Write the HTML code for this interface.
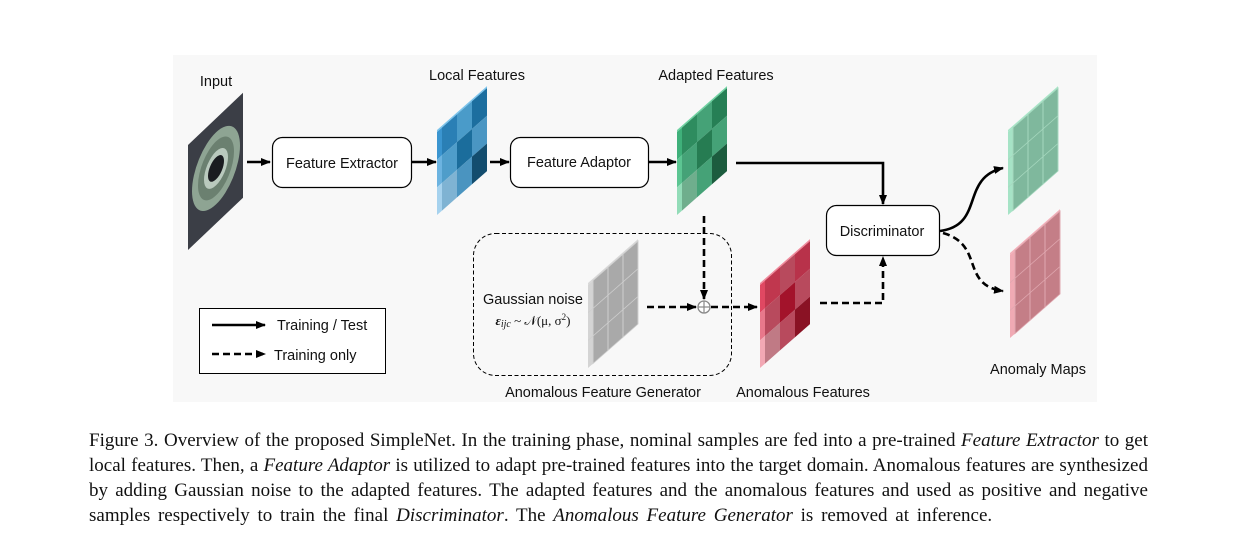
<!DOCTYPE html>
<html><head><meta charset="utf-8">
<style>
html,body{margin:0;padding:0;background:#fff;width:1236px;height:540px;overflow:hidden}
.cap{position:absolute;left:89px;width:1059px;font-family:"Liberation Serif",serif;font-size:19px;line-height:25px;color:#111;text-align:justify;text-align-last:justify;white-space:nowrap}
.cap.last{text-align-last:left;word-spacing:3px}
svg text{font-family:"Liberation Sans",sans-serif;font-size:14.5px;fill:#111}
</style></head><body>
<svg width="1236" height="540" style="position:absolute;left:0;top:0">
<defs>
<marker id="ah" markerWidth="10" markerHeight="8" refX="9" refY="4" orient="auto" markerUnits="userSpaceOnUse"><path d="M0,0 L10,4 L0,8 z" fill="#000"/></marker>
</defs>
<rect x="173" y="55" width="924" height="347" fill="#f8f8f8"/>

<!-- Input image -->
<g transform="translate(188,145) skewY(-43.5)">
<rect x="0" y="0" width="55" height="105" fill="#3b3e46"/>
<ellipse cx="28" cy="50" rx="24" ry="36" fill="#8ea493"/>
<ellipse cx="28" cy="50" rx="18" ry="27" fill="#6b8070"/>
<ellipse cx="28" cy="50" rx="12" ry="17" fill="#b9c9bd"/>
<ellipse cx="28" cy="50" rx="8" ry="11" fill="#1a1c20"/>
</g>

<!-- Local features -->
<g transform="translate(437,132) skewY(-41.3)">
<rect x="0" y="-2" width="50" height="2" fill="#7cc4ec"/>
<rect x="0" y="0" width="5" height="27.7" fill="#3b95d0"/><rect x="0" y="27.7" width="5" height="27.7" fill="#6cb3e0"/><rect x="0" y="55.4" width="5" height="27.6" fill="#a6d2ee"/>
<rect x="5" y="0" width="15" height="27.7" fill="#2a7fb5"/><rect x="20" y="0" width="15" height="27.7" fill="#4a9bc9"/><rect x="35" y="0" width="15" height="27.7" fill="#1c6e9f"/>
<rect x="5" y="27.7" width="15" height="27.7" fill="#4f9dca"/><rect x="20" y="27.7" width="15" height="27.7" fill="#1b6d9c"/><rect x="35" y="27.7" width="15" height="27.7" fill="#4a96c3"/>
<rect x="5" y="55.4" width="15" height="27.6" fill="#7fb3d3"/><rect x="20" y="55.4" width="15" height="27.6" fill="#4a94c0"/><rect x="35" y="55.4" width="15" height="27.6" fill="#134d6e"/>
</g>

<!-- Adapted features -->
<g transform="translate(677,132) skewY(-41.3)">
<rect x="0" y="-2" width="50" height="2" fill="#6fd3a2"/>
<rect x="0" y="0" width="5" height="27.7" fill="#3fb07a"/><rect x="0" y="27.7" width="5" height="27.7" fill="#5cc592"/><rect x="0" y="55.4" width="5" height="27.6" fill="#93dcb8"/>
<rect x="5" y="0" width="15" height="27.7" fill="#2e8c5f"/><rect x="20" y="0" width="15" height="27.7" fill="#45a277"/><rect x="35" y="0" width="15" height="27.7" fill="#267f55"/>
<rect x="5" y="27.7" width="15" height="27.7" fill="#45a277"/><rect x="20" y="27.7" width="15" height="27.7" fill="#267c52"/><rect x="35" y="27.7" width="15" height="27.7" fill="#45a277"/>
<rect x="5" y="55.4" width="15" height="27.6" fill="#6fae8d"/><rect x="20" y="55.4" width="15" height="27.6" fill="#45a277"/><rect x="35" y="55.4" width="15" height="27.6" fill="#1c5c3e"/>
</g>

<!-- Gaussian -->
<g transform="translate(588,285) skewY(-41.3)" stroke="#cfcfcf" stroke-width="1">
<rect x="0" y="-2" width="50" height="2" fill="#d8d8d8" stroke="none"/>
<rect x="0" y="0" width="5" height="83" fill="#d4d4d4" stroke="none"/>
<rect x="5" y="0" width="45" height="83" fill="#a9a9a9"/>
<line x1="20" y1="0" x2="20" y2="83"/><line x1="35" y1="0" x2="35" y2="83"/>
<line x1="0" y1="27.7" x2="50" y2="27.7"/><line x1="0" y1="55.4" x2="50" y2="55.4"/>
</g>

<!-- Anomalous red -->
<g transform="translate(760,285) skewY(-41.3)">
<rect x="0" y="-2" width="50" height="2" fill="#f08a9c"/>
<rect x="0" y="0" width="5" height="27.7" fill="#e04862"/><rect x="0" y="27.7" width="5" height="27.7" fill="#e8788b"/><rect x="0" y="55.4" width="5" height="27.6" fill="#f2a8b4"/>
<rect x="5" y="0" width="15" height="27.7" fill="#c0374e"/><rect x="20" y="0" width="15" height="27.7" fill="#b84a5d"/><rect x="35" y="0" width="15" height="27.7" fill="#b8324a"/>
<rect x="5" y="27.7" width="15" height="27.7" fill="#b84a5d"/><rect x="20" y="27.7" width="15" height="27.7" fill="#a3132b"/><rect x="35" y="27.7" width="15" height="27.7" fill="#b84a5d"/>
<rect x="5" y="55.4" width="15" height="27.6" fill="#c07a85"/><rect x="20" y="55.4" width="15" height="27.6" fill="#b84a5d"/><rect x="35" y="55.4" width="15" height="27.6" fill="#8a1224"/>
</g>

<!-- Anomaly map green -->
<g transform="translate(1008,132) skewY(-41.3)" stroke="#a6d8bf" stroke-width="1">
<rect x="0" y="-2" width="50" height="2" fill="#a8e6c8" stroke="none"/>
<rect x="0" y="0" width="5" height="83" fill="#a6e3c6" stroke="none"/>
<rect x="5" y="0" width="45" height="83" fill="#7fb89d"/>
<line x1="20" y1="0" x2="20" y2="83"/><line x1="35" y1="0" x2="35" y2="83"/>
<line x1="0" y1="27.7" x2="50" y2="27.7"/><line x1="0" y1="55.4" x2="50" y2="55.4"/>
</g>

<!-- Anomaly map pink -->
<g transform="translate(1010,255) skewY(-41.3)" stroke="#e0a8b0" stroke-width="1">
<rect x="0" y="-2" width="50" height="2" fill="#f4b0ba" stroke="none"/>
<rect x="0" y="0" width="5" height="83" fill="#f0aab4" stroke="none"/>
<rect x="5" y="0" width="45" height="83" fill="#c47e87"/>
<line x1="20" y1="0" x2="20" y2="83"/><line x1="35" y1="0" x2="35" y2="83"/>
<line x1="0" y1="27.7" x2="50" y2="27.7"/><line x1="0" y1="55.4" x2="50" y2="55.4"/>
</g>

<!-- Boxes -->
<rect x="272.5" y="137.5" width="139" height="50" rx="10" fill="#fff" stroke="#000" stroke-width="1.2"/>
<text x="342" y="168" text-anchor="middle">Feature Extractor</text>
<rect x="510.5" y="137.5" width="138" height="50" rx="10" fill="#fff" stroke="#000" stroke-width="1.2"/>
<text x="579" y="167" text-anchor="middle">Feature Adaptor</text>
<rect x="826.5" y="205.5" width="113" height="50" rx="10" fill="#fff" stroke="#000" stroke-width="1.2"/>
<text x="882" y="236" text-anchor="middle">Discriminator</text>
<rect x="473.5" y="233.5" width="258" height="142" rx="22" fill="none" stroke="#000" stroke-width="1" stroke-dasharray="4,2.5"/>
<rect x="199.5" y="308.5" width="186" height="65" fill="#fff" stroke="#000" stroke-width="1"/>

<!-- Solid arrows -->
<g stroke="#000" stroke-width="2.6" fill="none">
<line x1="247" y1="162" x2="270" y2="162" marker-end="url(#ah)"/>
<line x1="411" y1="162" x2="436" y2="162" marker-end="url(#ah)"/>
<line x1="490" y1="162" x2="509" y2="162" marker-end="url(#ah)"/>
<line x1="648" y1="162" x2="676" y2="162" marker-end="url(#ah)"/>
<polyline points="736,163 883,163 883,204" marker-end="url(#ah)"/>
<path d="M940,231 C985,225 960,178 1003,168" marker-end="url(#ah)"/>
<line x1="212" y1="325" x2="265" y2="325" marker-end="url(#ah)"/>
</g>
<!-- Dashed arrows -->
<g stroke="#000" stroke-width="2.6" fill="none" stroke-dasharray="7,4">
<line x1="704" y1="216" x2="704" y2="299" marker-end="url(#ah)"/>
<line x1="647" y1="307" x2="696" y2="307" marker-end="url(#ah)"/>
<line x1="711" y1="307" x2="757" y2="307" marker-end="url(#ah)"/>
<polyline points="820,303 883,303 883,257" marker-end="url(#ah)"/>
<path d="M943,233 C985,245 960,285 1003,291" marker-end="url(#ah)"/>
<line x1="212" y1="354" x2="265" y2="354" marker-end="url(#ah)"/>
</g>
<circle cx="704" cy="307" r="6" fill="#fff" stroke="#888" stroke-width="1.3"/>
<line x1="698" y1="307" x2="710" y2="307" stroke="#888" stroke-width="1.2"/>
<line x1="704" y1="301" x2="704" y2="313" stroke="#888" stroke-width="1.2"/>

<!-- Labels -->
<text x="216" y="86" text-anchor="middle">Input</text>
<text x="477" y="80" text-anchor="middle">Local Features</text>
<text x="716" y="80" text-anchor="middle">Adapted Features</text>
<text x="533" y="304" text-anchor="middle">Gaussian noise</text>
<text x="533" y="325" text-anchor="middle" style="font-family:'Liberation Serif',serif;font-size:13px"><tspan font-weight="bold" font-style="italic">ε</tspan><tspan font-style="italic" font-size="10" dy="2">ijc</tspan><tspan dy="-2"> ~ 𝒩(μ, σ</tspan><tspan font-size="9" dy="-5">2</tspan><tspan dy="5">)</tspan></text>
<text x="603" y="397" text-anchor="middle">Anomalous Feature Generator</text>
<text x="803" y="397" text-anchor="middle">Anomalous Features</text>
<text x="1038" y="374" text-anchor="middle">Anomaly Maps</text>
<text x="277" y="330">Training / Test</text>
<text x="274" y="360">Training only</text>
</svg>

<div class="cap" style="top:428px">Figure 3. Overview of the proposed SimpleNet. In the training phase, nominal samples are fed into a pre-trained <i>Feature Extractor</i> to get</div>
<div class="cap" style="top:453px">local features. Then, a <i>Feature Adaptor</i> is utilized to adapt pre-trained features into the target domain. Anomalous features are synthesized</div>
<div class="cap" style="top:478px">by adding Gaussian noise to the adapted features. The adapted features and the anomalous features and used as positive and negative</div>
<div class="cap last" style="top:503px">samples respectively to train the final <i>Discriminator</i>. The <i>Anomalous Feature Generator</i> is removed at inference.</div>
</body></html>
